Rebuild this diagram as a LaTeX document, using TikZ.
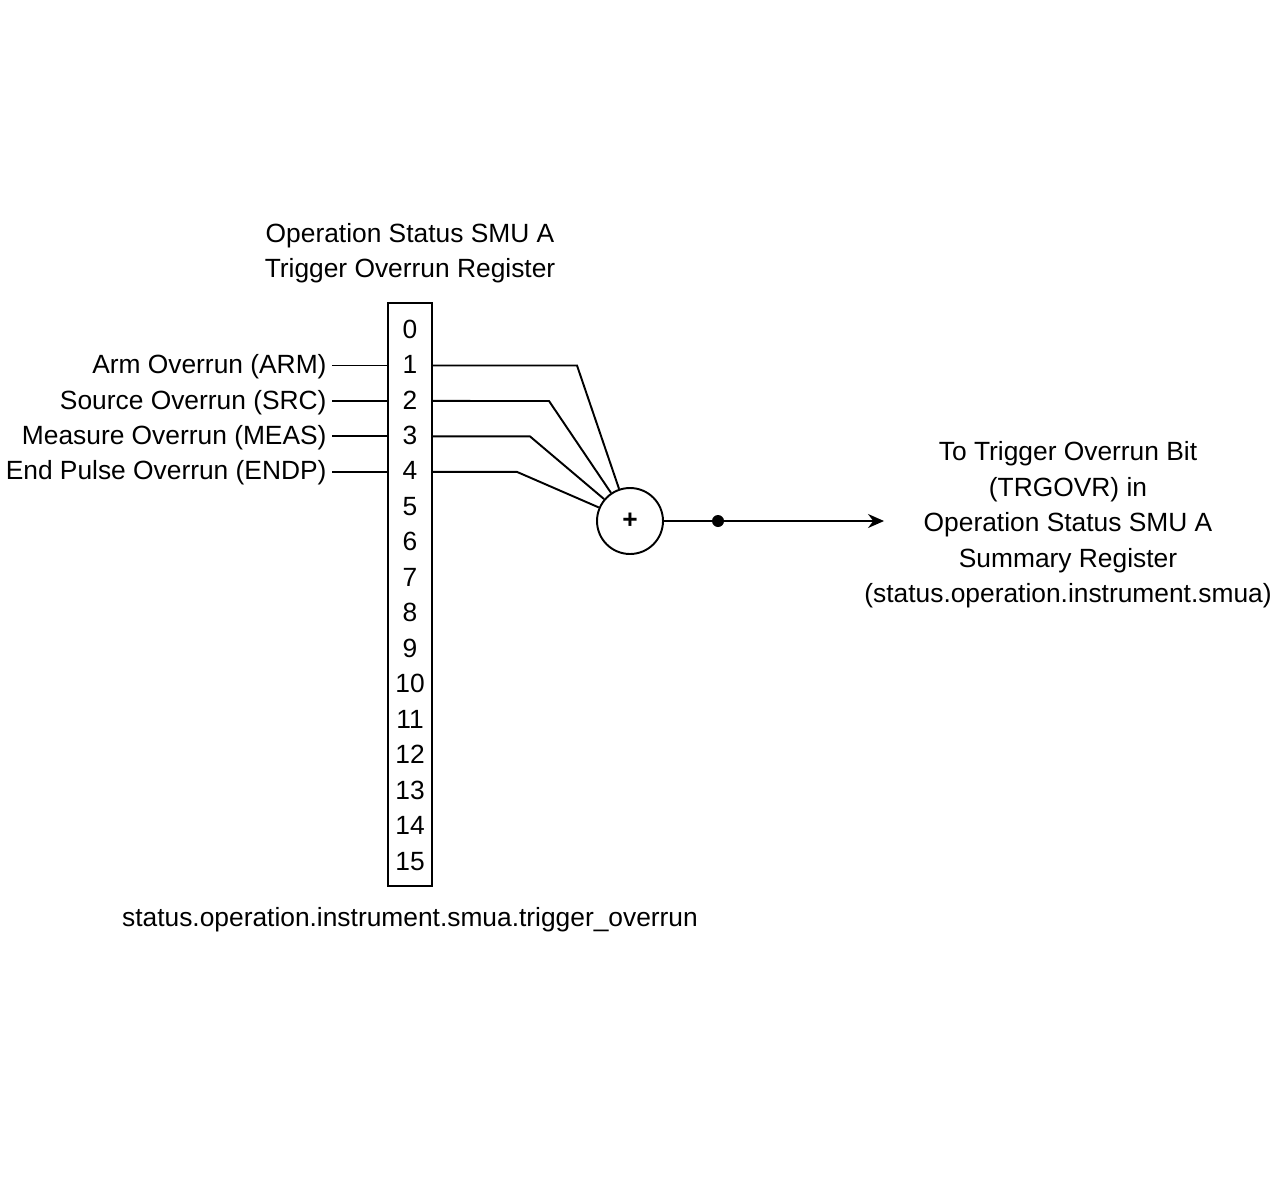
\documentclass[tikz,border=0pt]{standalone}
\usepackage{fontspec}
\setmainfont{Liberation Sans}
\usepackage{tikz}
\usetikzlibrary{arrows.meta, positioning}

\begin{document}
\begin{tikzpicture}[
  x=0.02cm, y=-0.02cm,
  line width=1.1pt,
  every node/.style={font=\fontsize{15}{20.2}\selectfont},
  txt/.style={inner sep=0pt, text height=0.92em, text depth=0pt},
  inlabel/.style={txt, anchor=east, inner xsep=0.09cm},
  bit/.style={txt},
  register/.style={rectangle, draw, minimum width=0.88cm, minimum height=11.66cm, inner sep=0pt},
  sumnode/.style={circle, draw, minimum size=1.32cm, inner sep=0pt, font=\fontsize{15}{15}\selectfont\bfseries},
  dot/.style={circle, fill, minimum size=0.24cm, inner sep=0pt},
  arr/.style={-{Stealth[length=3.2mm, width=2.8mm]}}
]
  \useasboundingbox (0,0) rectangle (1280,1190);

  % Register box and bit numbers
  \node[register] (reg) at (410,594.5) {};
  \foreach \i in {0,...,15}
    \node[bit] (b\i) at (410,{330+35.47*\i}) {\i};

  % Titles
  \node[align=center] (title) at (410,253) {Operation Status SMU A\\Trigger Overrun Register};
  \node[txt] (name) at (410,918) {status.operation.instrument.smua.trigger\_overrun};

  % Input events
  \node[inlabel] (arm)  at (332,365.5) {Arm Overrun (ARM)};
  \node[inlabel] (src)  at (332,401)   {Source Overrun (SRC)};
  \node[inlabel] (meas) at (332,436.4) {Measure Overrun (MEAS)};
  \node[inlabel] (endp) at (332,471.9) {End Pulse Overrun (ENDP)};
  \draw (arm)  -- (arm -| reg.west);
  \draw (src)  -- (src -| reg.west);
  \draw (meas) -- (meas -| reg.west);
  \draw (endp) -- (endp -| reg.west);

  % Summing node
  \node[sumnode] (sum) at (630,521) {+};
  \coordinate (k1) at (577,365.5);
  \coordinate (k2) at (549,401);
  \coordinate (k3) at (530,436.4);
  \coordinate (k4) at (517,471.9);
  \draw (b1 -| reg.east) -- (k1) -- (sum);
  \draw (b2 -| reg.east) -- (k2) -- (sum);
  \draw (b3 -| reg.east) -- (k3) -- (sum);
  \draw (b4 -| reg.east) -- (k4) -- (sum);

  % Output
  \coordinate (out) at (884,521);
  \draw[arr] (sum) -- (out);
  \node[dot] (tap) at (718,521) {};
  \node[align=center] (dest) at (1068,525) {To Trigger Overrun Bit\\(TRGOVR) in\\Operation Status SMU A\\Summary Register\\(status.operation.instrument.smua)};
\end{tikzpicture}
\end{document}
